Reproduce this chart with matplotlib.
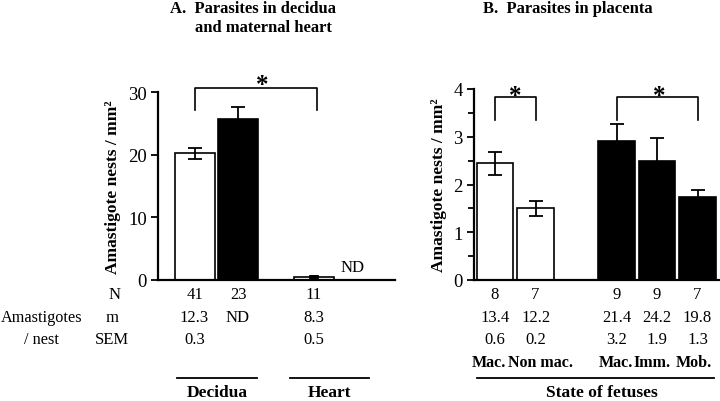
import matplotlib
matplotlib.use("Agg")
import matplotlib.pyplot as plt
import matplotlib.transforms as mtransforms

plt.rcParams['font.family'] = ['Liberation Serif', 'DejaVu Serif']

# ---- Data panel A ----
a_pos = [0, 1, 2.74]
a_vals = [20.2, 25.7, 0.5]
a_err = [0.9, 1.9, 0.3]
a_colors = ['white', 'black', 'white']
a_N = ['41', '23', '11']
a_m = ['12.3', 'ND', '8.3']
a_sem = ['0.3', '', '0.5']
a_groups = ['Decidua', 'Heart']

# ---- Data panel B ----
b_pos = [0, 1, 3, 4, 5]
b_vals = [2.44, 1.50, 2.92, 2.50, 1.74]
b_err = [0.25, 0.15, 0.34, 0.48, 0.15]
b_colors = ['white', 'white', 'black', 'black', 'black']
b_N = ['8', '7', '9', '9', '7']
b_m = ['13.4', '12.2', '21.4', '24.2', '19.8']
b_sem = ['0.6', '0.2', '3.2', '1.9', '1.3']
b_cats = ['Mac.', 'Non mac.', 'Mac.', 'Imm.', 'Mob.']
b_group = 'State of fetuses'

W, H = 720, 402
fig = plt.figure(figsize=(7.2, 4.02), dpi=100)

def fx(px):
    return px / W

def fy(py):
    return 1 - py / H

axA = fig.add_axes([fx(158), fy(281), fx(395 - 158), fy(93) - fy(281)])
axB = fig.add_axes([fx(474), fy(281), fx(719 - 474), fy(90) - fy(281)])

for ax in (axA, axB):
    for s in ('top', 'right'):
        ax.spines[s].set_visible(False)
    ax.spines['left'].set_linewidth(1.6)
    ax.spines['bottom'].set_linewidth(1.6)
    ax.set_xticks([])
    ax.tick_params(axis='y', direction='out', length=5, width=1.3, labelsize=13.5, pad=3)
    ax.set_ylabel('Amastigote nests / mm²', fontsize=12.5, fontweight='bold', labelpad=5)

# Panel A
axA.set_xlim(-0.84, 4.61)
axA.set_ylim(0, 30)
axA.set_yticks([0, 10, 20, 30])
axA.bar(a_pos, a_vals, width=0.92, color=a_colors, edgecolor='black', linewidth=1.2, zorder=2)
axA.errorbar(a_pos[:2], a_vals[:2], yerr=a_err[:2], fmt='none', ecolor='black',
             elinewidth=1.3, capsize=5, capthick=1.3, zorder=3)
axA.errorbar([a_pos[2]], [a_vals[2]], yerr=[a_err[2]], fmt='none', ecolor='black',
             elinewidth=7, capsize=0, zorder=3)
axA.text(3.64, 0.8, 'ND', ha='center', va='bottom', fontsize=12)
# bracket
axA.plot([0, 0, 2.82, 2.82], [27.2, 30.7, 30.7, 27.2], color='black', lw=1.2, clip_on=False)
axA.text(1.55, 29.4, '*', ha='center', va='bottom', fontsize=18, fontweight='bold')

# Panel B
axB.set_xlim(-0.52, 5.53)
axB.set_ylim(0, 4)
axB.set_yticks([0, 1, 2, 3, 4])
axB.set_yticks([0.5, 1.5, 2.5, 3.5], minor=True)
axB.tick_params(axis='y', which='minor', direction='out', length=4, width=1.3)
axB.bar(b_pos, b_vals, width=0.91, color=b_colors, edgecolor='black', linewidth=1.2, zorder=2)
axB.errorbar(b_pos, b_vals, yerr=b_err, fmt='none', ecolor='black',
             elinewidth=1.3, capsize=5, capthick=1.3, zorder=3)
axB.plot([0, 0, 1, 1], [3.35, 3.83, 3.83, 3.35], color='black', lw=1.2, clip_on=False)
axB.text(0.5, 3.63, '*', ha='center', va='bottom', fontsize=18, fontweight='bold')
axB.plot([3, 3, 5, 5], [3.35, 3.83, 3.83, 3.35], color='black', lw=1.2, clip_on=False)
axB.text(4.05, 3.63, '*', ha='center', va='bottom', fontsize=18, fontweight='bold')

# Titles
fig.text(fx(170), fy(9), 'A.  Parasites in decidua', ha='left', va='center',
         fontsize=12, fontweight='bold')
fig.text(fx(195), fy(28), 'and maternal heart', ha='left', va='center',
         fontsize=12, fontweight='bold')
fig.text(fx(568), fy(9), 'B.  Parasites in placenta', ha='center', va='center',
         fontsize=12, fontweight='bold')

# Table rows
rows_y = [fy(295), fy(318), fy(340)]
trA = mtransforms.blended_transform_factory(axA.transData, fig.transFigure)
trB = mtransforms.blended_transform_factory(axB.transData, fig.transFigure)
for vals, yy in zip([a_N, a_m, a_sem], rows_y):
    for x, v in zip(a_pos, vals):
        fig.text(x, yy, v, transform=trA, ha='center', va='center', fontsize=12)
for vals, yy in zip([b_N, b_m, b_sem], rows_y):
    for x, v in zip(b_pos, vals):
        fig.text(x, yy, v, transform=trB, ha='center', va='center', fontsize=12)

fig.text(fx(115), rows_y[0], 'N', ha='center', va='center', fontsize=12)
fig.text(fx(112), rows_y[1], 'm', ha='center', va='center', fontsize=12)
fig.text(fx(112), rows_y[2], 'SEM', ha='center', va='center', fontsize=12)
fig.text(fx(42), rows_y[1], 'Amastigotes', ha='center', va='center', fontsize=11.7)
fig.text(fx(42), rows_y[2], '/ nest', ha='center', va='center', fontsize=11.7)

cat_px = [489, 541, 616, 652.5, 694]
for px, c in zip(cat_px, b_cats):
    fig.text(fx(px), fy(363), c, ha='center', va='center', fontsize=11.5,
             fontweight='bold')

# Group underlines and labels
line_y = fy(378.5)
fig.add_artist(plt.Line2D([fx(177), fx(257)], [line_y, line_y], color='black', lw=1.3))
fig.add_artist(plt.Line2D([fx(290), fx(369)], [line_y, line_y], color='black', lw=1.3))
fig.add_artist(plt.Line2D([fx(477), fx(714)], [line_y, line_y], color='black', lw=1.3))
fig.text(fx(217), fy(393), a_groups[0], ha='center', va='center', fontsize=12.5, fontweight='bold')
fig.text(fx(329), fy(393), a_groups[1], ha='center', va='center', fontsize=12.5, fontweight='bold')
fig.text(fx(602), fy(393), b_group, ha='center', va='center', fontsize=12.5, fontweight='bold')

fig.savefig('out.png', dpi=100)
